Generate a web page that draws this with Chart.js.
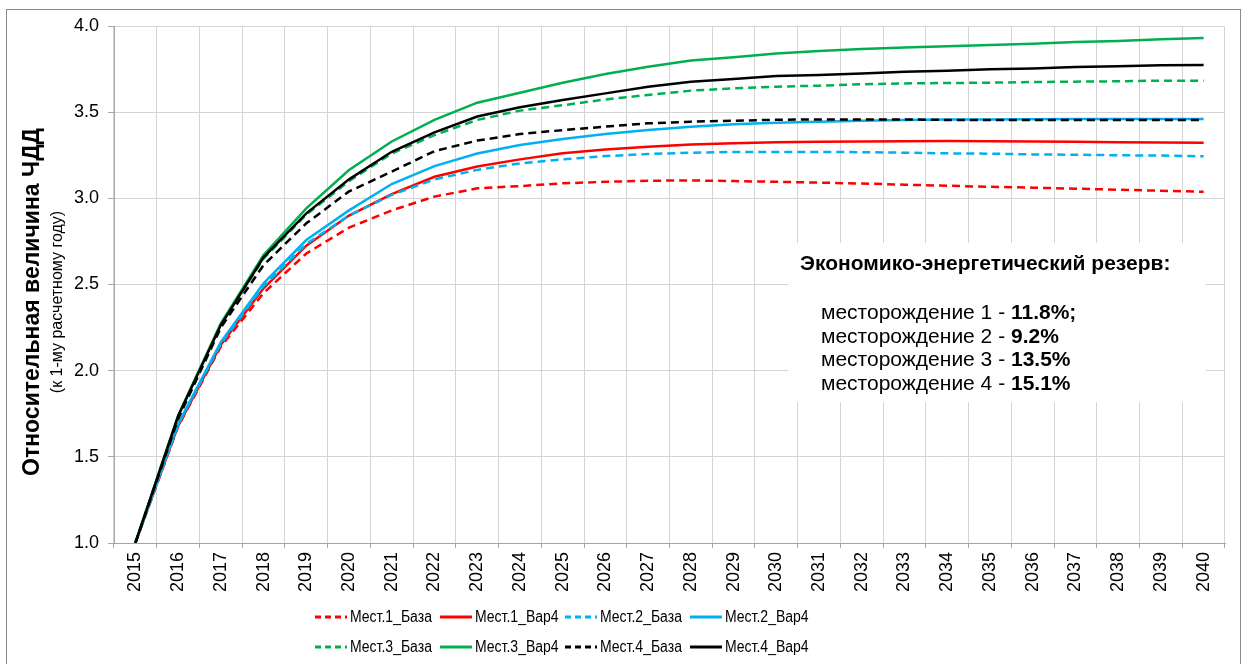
<!DOCTYPE html>
<html>
<head>
<meta charset="utf-8">
<script src="https://cdn.jsdelivr.net/npm/chart.js@4.4.1/dist/chart.umd.min.js"></script>
<style>
  html, body { margin: 0; padding: 0; background: #fff; }
  #wrap { position: relative; width: 1249px; height: 664px; }
</style>
</head>
<body>
<div id="wrap"><canvas id="c" width="1249" height="664"></canvas></div>
<script>
const years = ['2015','2016','2017','2018','2019','2020','2021','2022','2023','2024','2025','2026','2027','2028','2029','2030','2031','2032','2033','2034','2035','2036','2037','2038','2039','2040'];

const m1Base = [1.0, 1.675, 2.14, 2.45, 2.68, 2.83, 2.93, 3.01, 3.058, 3.071, 3.087, 3.096, 3.102, 3.104, 3.10, 3.096, 3.091, 3.086, 3.079, 3.073, 3.067, 3.062, 3.056, 3.05, 3.044, 3.038];
const m1Var4 = [1.0, 1.68, 2.15, 2.478, 2.725, 2.90, 3.025, 3.125, 3.185, 3.226, 3.261, 3.284, 3.30, 3.313, 3.319, 3.325, 3.329, 3.330, 3.331, 3.332, 3.331, 3.330, 3.328, 3.326, 3.324, 3.323];
const m2Base = [1.0, 1.685, 2.155, 2.49, 2.735, 2.90, 3.02, 3.11, 3.165, 3.203, 3.226, 3.245, 3.257, 3.265, 3.269, 3.269, 3.269, 3.268, 3.265, 3.261, 3.259, 3.255, 3.253, 3.25, 3.248, 3.244];
const m2Var4 = [1.0, 1.69, 2.165, 2.507, 2.758, 2.93, 3.083, 3.187, 3.26, 3.309, 3.344, 3.373, 3.396, 3.416, 3.43, 3.439, 3.445, 3.45, 3.455, 3.457, 3.458, 3.459, 3.46, 3.46, 3.46, 3.46];
const m3Base = [1.0, 1.73, 2.265, 2.65, 2.905, 3.10, 3.26, 3.367, 3.455, 3.509, 3.54, 3.574, 3.60, 3.625, 3.638, 3.648, 3.654, 3.662, 3.667, 3.669, 3.671, 3.675, 3.677, 3.679, 3.683, 3.683];
const m3Var4 = [1.0, 1.74, 2.275, 2.671, 2.942, 3.164, 3.33, 3.455, 3.555, 3.613, 3.671, 3.721, 3.764, 3.80, 3.818, 3.84, 3.855, 3.867, 3.875, 3.882, 3.89, 3.897, 3.907, 3.913, 3.923, 3.93];
const m4Base = [1.0, 1.72, 2.25, 2.613, 2.855, 3.04, 3.155, 3.274, 3.335, 3.373, 3.396, 3.416, 3.435, 3.445, 3.45, 3.456, 3.458, 3.458, 3.458, 3.455, 3.455, 3.455, 3.455, 3.455, 3.455, 3.455];
const m4Var4 = [1.0, 1.735, 2.265, 2.658, 2.913, 3.11, 3.27, 3.383, 3.475, 3.528, 3.571, 3.609, 3.648, 3.677, 3.692, 3.71, 3.716, 3.725, 3.735, 3.741, 3.749, 3.754, 3.762, 3.766, 3.772, 3.774];

const seriesNames = ['Мест.1_База','Мест.1_Вар4','Мест.2_База','Мест.2_Вар4','Мест.3_База','Мест.3_Вар4','Мест.4_База','Мест.4_Вар4'];
const seriesData = [m1Base, m1Var4, m2Base, m2Var4, m3Base, m3Var4, m4Base, m4Var4];
const seriesColors = ['#ff0000','#ff0000','#00b0f0','#00b0f0','#00b050','#00b050','#000000','#000000'];
const seriesDashed = [true, false, true, false, true, false, true, false];

const yTitle = 'Относительная величина ЧДД';
const ySubTitle = '(к 1-му расчетному году)';
const noteTitle = 'Экономико-энергетический резерв:';
const noteLabels = ['месторождение 1 - ', 'месторождение 2 - ', 'месторождение 3 - ', 'месторождение 4 - '];
const noteValues = ['11.8%;', '9.2%', '13.5%', '15.1%'];

const FONT = '"Liberation Sans", Arial, sans-serif';

const datasets = seriesNames.map((name, i) => ({
  label: name,
  data: seriesData[i],
  borderColor: seriesColors[i],
  backgroundColor: seriesColors[i],
  borderWidth: 2.5,
  borderDash: seriesDashed[i] ? [8, 5] : [],
  pointRadius: 0,
  pointHoverRadius: 0,
  tension: 0,
  fill: false,
  order: seriesNames.length - i
}));

const decorPlugin = {
  id: 'decor',
  beforeDatasetsDraw(chart) {
    const ctx = chart.ctx;
    ctx.save();
    ctx.fillStyle = '#ffffff';
    ctx.fillRect(788, 243, 418, 159);
    ctx.fillStyle = '#000';
    ctx.textBaseline = 'middle';
    ctx.textAlign = 'left';
    ctx.font = 'bold 21px ' + FONT;
    ctx.fillText(noteTitle, 800, 264);
    for (let i = 0; i < noteLabels.length; i++) {
      const y = 313 + i * 23.8;
      ctx.font = '21px ' + FONT;
      ctx.fillText(noteLabels[i], 821, y);
      const w = ctx.measureText(noteLabels[i]).width;
      ctx.font = 'bold 21px ' + FONT;
      ctx.fillText(noteValues[i], 821 + w, y);
    }
    ctx.restore();
  },
  afterDraw(chart) {
    const ctx = chart.ctx;
    ctx.save();
    ctx.strokeStyle = '#8c8c8c';
    ctx.lineWidth = 1;
    ctx.strokeRect(6.5, 9.5, 1234, 700);
    ctx.fillStyle = '#000';
    ctx.textAlign = 'center';
    ctx.textBaseline = 'middle';
    ctx.save();
    ctx.translate(33, 302);
    ctx.rotate(-Math.PI / 2);
    ctx.font = 'bold 23px ' + FONT;
    ctx.fillText(yTitle, 0, 0);
    ctx.restore();
    ctx.save();
    ctx.translate(58, 302);
    ctx.rotate(-Math.PI / 2);
    ctx.font = '16px ' + FONT;
    ctx.fillText(ySubTitle, 0, 0);
    ctx.restore();
    ctx.textAlign = 'left';
    chart.data.datasets.forEach((ds, i) => {
      const row = Math.floor(i / 4), col = i % 4;
      const x = 315 + col * 125;
      const y = 617 + row * 30;
      ctx.save();
      ctx.strokeStyle = ds.borderColor;
      ctx.lineWidth = 3;
      ctx.setLineDash(ds.borderDash.length ? [6, 4] : []);
      ctx.beginPath();
      ctx.moveTo(x, y);
      ctx.lineTo(x + 32, y);
      ctx.stroke();
      ctx.restore();
      ctx.save();
      ctx.fillStyle = '#000';
      ctx.font = '16px ' + FONT;
      ctx.translate(x + 35, y + 1);
      ctx.scale(0.875, 1);
      ctx.fillText(ds.label, 0, 0);
      ctx.restore();
    });
    ctx.restore();
  }
};

new Chart(document.getElementById('c'), {
  type: 'line',
  data: { labels: years, datasets },
  options: {
    responsive: false,
    animation: false,
    events: [],
    layout: { padding: { left: 0, right: 24, top: 26, bottom: 0 } },
    plugins: { legend: { display: false }, tooltip: { enabled: false } },
    scales: {
      x: {
        type: 'category',
        offset: true,
        grid: { offset: true, color: '#d4d4d4', tickColor: '#a6a6a6', tickLength: 5, lineWidth: 1 },
        border: { color: '#a6a6a6', width: 1 },
        ticks: { minRotation: 90, maxRotation: 90, autoSkip: false, color: '#000', padding: 4, font: { family: FONT, size: 18 } },
        afterFit(s) { s.height = 121; }
      },
      y: {
        min: 1, max: 4,
        grid: { color: '#d4d4d4', tickColor: '#a6a6a6', tickLength: 6, lineWidth: 1 },
        border: { color: '#a6a6a6', width: 1 },
        ticks: { stepSize: 0.5, color: '#000', padding: 9, font: { family: FONT, size: 18 }, callback: v => Number(v).toFixed(1) },
        afterFit(s) { s.width = 114; }
      }
    }
  },
  plugins: [decorPlugin]
});
</script>
</body>
</html>
